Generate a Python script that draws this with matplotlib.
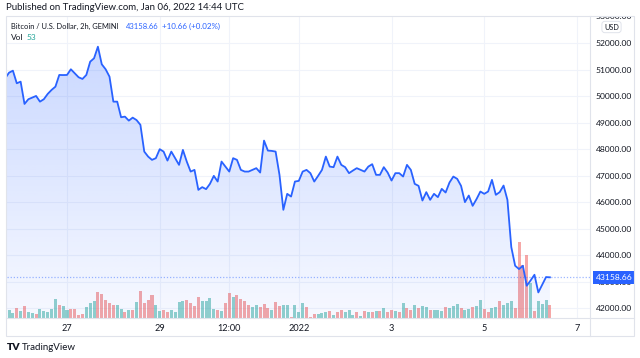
import numpy as np
import pandas as pd
import matplotlib
matplotlib.use("Agg")
import matplotlib.pyplot as plt
import matplotlib.dates as mdates
from matplotlib.patches import Polygon, Rectangle
from matplotlib.lines import Line2D
from matplotlib.transforms import blended_transform_factory, Bbox, TransformedBbox

plt.rcParams['font.family'] = ['Lato', 'DejaVu Sans']

# =============================================================================
# Data (2h candles, BTC/USD on GEMINI)
# =============================================================================
START = "2021-12-25 16:00"

close_prices = [
    50679, 50891, 50966, 50490, 50551, 49709, 49887, 49950, 50011, 49796,
    49887, 50087, 50238, 50362, 50804, 50800, 50804, 51019, 50868, 50717,
    50653, 50804, 51306, 51434, 51872, 51207, 51019, 50740, 49796, 49796,
    49207, 49230, 49079, 49192, 49100, 48920, 47909, 47720, 47596, 47660,
    48000, 47909, 47569, 47909, 47660, 47407, 47973, 47532, 47154, 47218,
    46463, 46566, 46490, 46690, 46992, 46777, 47532, 47343, 47154, 47660,
    47596, 47218, 47154, 47154, 47218, 47283, 47117, 48324, 47947, 47935,
    47909, 47030, 45709, 46313, 46210, 46777, 46803, 47154, 47218, 47094,
    46777, 46992, 47218, 47720, 47343, 47320, 47720, 47407, 47320, 47094,
    47192, 47283, 47220, 47154, 47343, 47433, 47030, 47030, 47320, 47117,
    46815, 47094, 47094, 46966, 47407, 47218, 46690, 46614, 46060, 46377,
    46086, 46313, 46188, 46501, 46362, 46739, 46966, 46879, 46614, 46000,
    46249, 45860, 46113, 46400, 46313, 46400, 46841, 46275, 46377, 46626,
    46086, 44301, 43596, 43471, 43596, 42841, 43041, 43256, 42588, 42878,
    43169, 43159,
]

volumes = [
    42, 35, 21, 42, 28, 51, 25, 21, 18, 38,
    30, 25, 38, 80, 55, 49, 32, 38, 38, 14,
    18, 46, 63, 72, 107, 101, 74, 63, 55, 53,
    38, 25, 35, 35, 67, 111, 63, 76, 97, 55,
    30, 32, 25, 32, 24, 67, 72, 76, 63, 49,
    88, 72, 72, 83, 38, 32, 30, 63, 104, 86,
    97, 79, 70, 55, 45, 55, 45, 60, 42, 35,
    65, 51, 55, 55, 4, 53, 25, 63, 46, 4,
    17, 18, 21, 25, 30, 14, 25, 35, 25, 33,
    13, 25, 10, 28, 26, 26, 28, 28, 40, 25,
    35, 30, 24, 64, 42, 35, 55, 40, 49, 46,
    33, 33, 33, 30, 46, 40, 51, 60, 40, 35,
    39, 46, 49, 76, 38, 24, 40, 46, 72, 53,
    63, 70, 42, 316, 222, 264, 146, 29, 70, 57,
    74, 53,
]

# g = up candle, r = down candle
volume_dir = list(
    "gggrgrgg"
    "rgggggrggrrrr"
    "gggrrrrrggrgrg"
    "rrrrggrrggggrrrr"
    "ggggrgrrgrrrrggrrrg"
    "rrggrgggrrrgggrgrrggg"
    "rgrgrgrgrrgr"
    "grrgrggrggg"
    "rgggrggrggrrggrggg"
    "rrrrgrgggrggg"
)

last_price = 43158.66
change_text = "+10.66 (+0.02%)"
last_volume = 53

price_ticks = list(range(42000, 53000, 1000))
time_tick_dates = ["2021-12-27", "2021-12-29", "2021-12-30 12:00", "2022-01-01",
                   "2022-01-03", "2022-01-05", "2022-01-07"]
time_tick_labels = ["27", "29", "12:00", "2022", "3", "5", "7"]

# =============================================================================
# Layout / colours
# =============================================================================
W, H = 640, 358
LINE_BLUE = "#2962ff"
UP = "#26a69a"
DOWN = "#ef5350"
GRID = "#f0f3fa"
BORDER = "#e0e3eb"
TEXT = "#131722"


def fx(px):
    return px / W


def fy(py):
    return 1 - py / H


n = min(len(close_prices), len(volumes), len(volume_dir))
times = pd.date_range(START, periods=n, freq="2h")
x = mdates.date2num(times.to_pydatetime())
prices = np.array(close_prices[:n], dtype=float)
vols = np.array(volumes[:n], dtype=float)
dirs = volume_dir[:n]

fig = plt.figure(figsize=(W / 100, H / 100), dpi=100)
fig.patch.set_facecolor("white")

rect = [fx(7), fy(318), fx(590) - fx(7), fy(17) - fy(318)]
ax_vol = fig.add_axes(rect)
ax = fig.add_axes(rect, sharex=ax_vol)
ax.patch.set_alpha(0)

# x range: pane runs from ~1.3 days before Dec 27 to ~11.28 days after
day0 = mdates.date2num(pd.Timestamp("2021-12-27").to_pydatetime())
px_per_day = 46.36
xmin = day0 + (7 - 67) / px_per_day
xmax = day0 + (590 - 67) / px_per_day
ax.set_xlim(xmin, xmax)

# y range for the price pane
px_per_1000 = 26.47
ymin = 42000 - (318 - 308) / px_per_1000 * 1000
ymax = 52000 + (43.3 - 17) / px_per_1000 * 1000
ax.set_ylim(ymin, ymax)

# --- volume (drawn under the price series) ---
bar_colors = [UP if d == "g" else DOWN for d in dirs]
ax_vol.bar(x, vols, width=2 / 24 * 0.78, color=bar_colors, alpha=0.5,
           linewidth=0, zorder=2)
ax_vol.set_ylim(0, vols.max() * 301 / 75.7)
ax_vol.axis("off")

# --- grid ---
for p in price_ticks:
    ax_vol.axhline((p - ymin) / (ymax - ymin) * ax_vol.get_ylim()[1],
                   color=GRID, lw=0.8, zorder=0)
tick_x = [mdates.date2num(pd.Timestamp(t).to_pydatetime()) for t in time_tick_dates]
for t in tick_x:
    ax_vol.axvline(t, color=GRID, lw=0.8, zorder=0)

# --- area with vertical gradient ---
verts = [(x[0], ymin)] + list(zip(x, prices)) + [(x[-1], ymin)]
clip = Polygon(verts, closed=True, facecolor="none", edgecolor="none")
ax.add_patch(clip)
grad = np.zeros((200, 1, 4))
grad[:, :, :3] = matplotlib.colors.to_rgb(LINE_BLUE)
grad[:, 0, 3] = np.linspace(0.04, 0.27, 200)
img = ax.imshow(grad, extent=[x[0], x[-1], ymin, ymax], origin="lower",
                aspect="auto", zorder=1, interpolation="bilinear")
img.set_clip_path(clip)
ax.set_xlim(xmin, xmax)
ax.set_ylim(ymin, ymax)

ax.plot(x, prices, color=LINE_BLUE, lw=1.3, zorder=3, solid_joinstyle="round")
ax.axhline(last_price, color=LINE_BLUE, lw=0.9, ls=(0, (1, 1.5)), alpha=0.45, zorder=2)

# --- axes styling ---
for s in ax.spines.values():
    s.set_visible(False)
ax.yaxis.tick_right()
ax.set_yticks(price_ticks)
ax.set_yticklabels([f"{p:.2f}" for p in price_ticks])
ax.tick_params(axis="y", length=0, pad=4.0, labelsize=6.1, labelcolor=TEXT)
ax.set_xticks(tick_x)
ax.set_xticklabels(time_tick_labels)
ax.tick_params(axis="x", length=0, pad=4.5, labelsize=6.6, labelcolor=TEXT)

# current price label on the price scale
blend = blended_transform_factory(ax.transAxes, ax.transData)
ax.text(1.0 + 5.5 / 583, last_price, f"{last_price:.2f}", transform=blend,
        ha="left", va="center", color="white", fontsize=6.1, zorder=10,
        clip_on=False,
        bbox=dict(boxstyle="square,pad=0.35", fc=LINE_BLUE, ec="none"))

# --- frame lines ---
line_kw = dict(color=BORDER, lw=0.8, transform=fig.transFigure)
fig.add_artist(Rectangle((fx(6), fy(336)), fx(634) - fx(6), fy(16) - fy(336),
                         fill=False, ec=BORDER, lw=0.8, transform=fig.transFigure))
fig.add_artist(Line2D([fx(590), fx(590)], [fy(16), fy(336)], **line_kw))
fig.add_artist(Line2D([fx(6), fx(634)], [fy(318), fy(318)], **line_kw))

# half-visible 53000 label at the top of the scale
t53 = fig.text(fx(595.5), fy(16.8), "53000.00", fontsize=6.1, color=TEXT, va="center")
t53.set_clip_box(TransformedBbox(Bbox.from_extents(fx(590), fy(318), fx(634), fy(16.5)),
                                 fig.transFigure))
t53.set_clip_on(True)

# USD badge
fig.text(fx(611.5), fy(27), "USD", fontsize=5.2, color=TEXT, ha="center", va="center",
         bbox=dict(boxstyle="round,pad=0.3,rounding_size=0.4", fc="white", ec=BORDER, lw=0.7))

# --- header / legend texts ---
fig.text(fx(6), fy(8), "Published on TradingView.com, Jan 06, 2022 14:44 UTC",
         fontsize=6.9, color=TEXT, va="center")
fig.text(fx(11), fy(26.5), "Bitcoin / U.S. Dollar, 2h, GEMINI", fontsize=5.4,
         color=TEXT, va="center")
fig.text(fx(125.5), fy(26.5), f"{last_price:.2f}", fontsize=5.5, color=LINE_BLUE, va="center")
fig.text(fx(161.5), fy(26.5), change_text, fontsize=5.8, color=LINE_BLUE, va="center")
fig.text(fx(11), fy(37.5), "Vol", fontsize=6.0, color=TEXT, va="center")
fig.text(fx(27), fy(37.5), str(last_volume), fontsize=6.0, color=UP, va="center")

# footer logo
fig.text(fx(6.5), fy(347.5), "TV", fontsize=7.5, color=TEXT, va="center",
         fontweight="heavy")
fig.text(fx(22), fy(347.5), "TradingView", fontsize=7, color=TEXT, va="center")

fig.savefig("out.png", dpi=100)
